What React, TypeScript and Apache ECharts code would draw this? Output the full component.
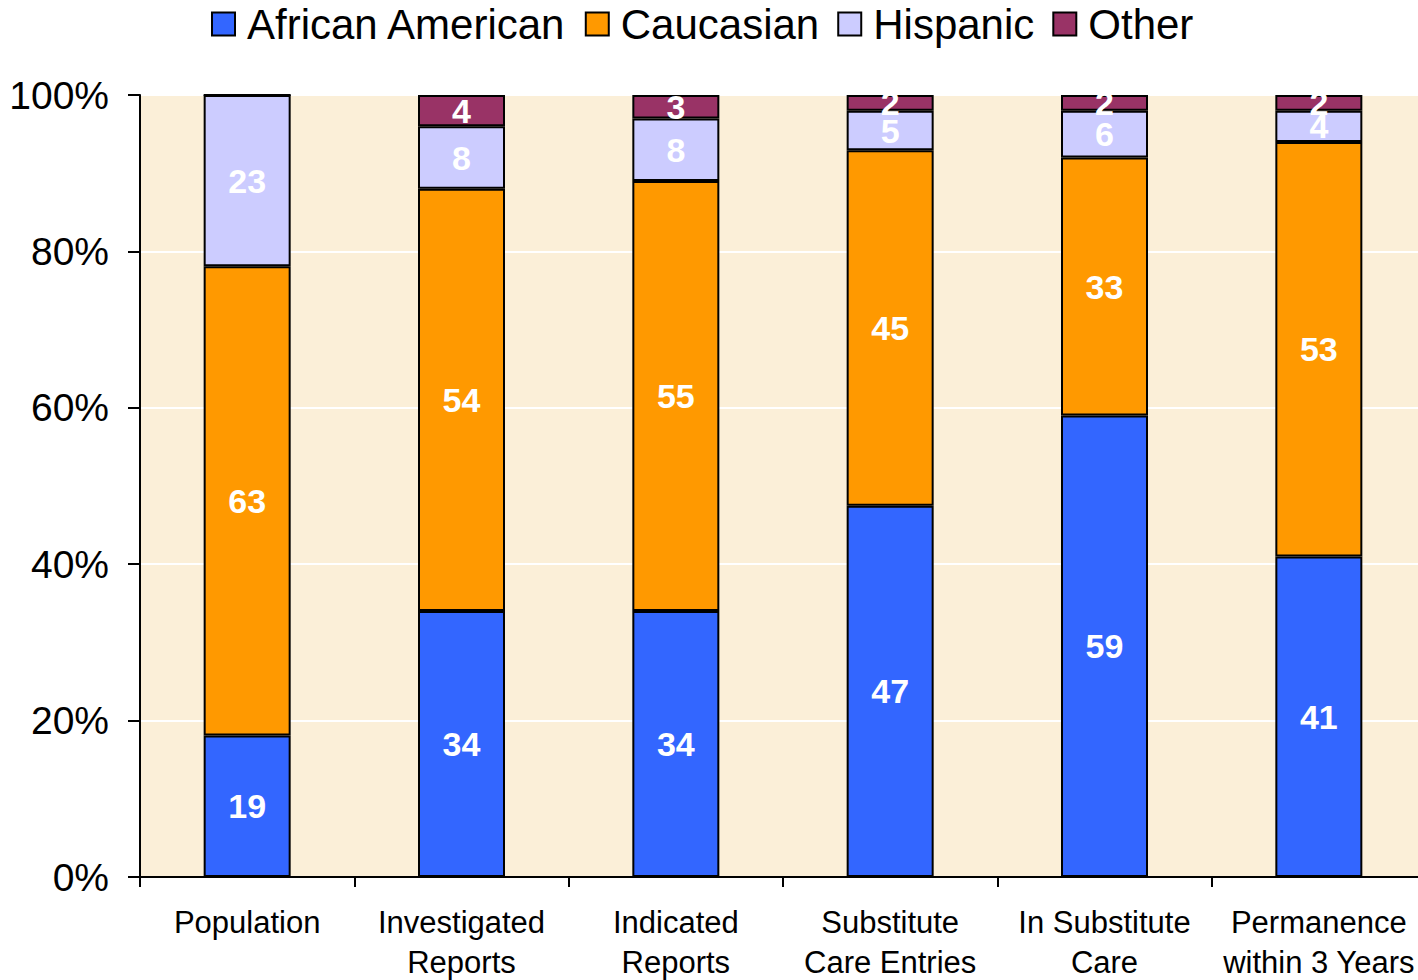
import React, { useEffect, useRef } from "react";
import * as echarts from "echarts";

const categories = [
  "Population",
  "Investigated\nReports",
  "Indicated\nReports",
  "Substitute\nCare Entries",
  "In Substitute\nCare",
  "Permanence\nwithin 3 Years",
];
const seriesNames = ["African American", "Caucasian", "Hispanic", "Other"];
const africanAmerican = [19, 34, 34, 47, 59, 41];
const caucasian = [63, 54, 55, 45, 33, 53];
const hispanic = [23, 8, 8, 5, 6, 4];
const other = [0, 4, 3, 2, 2, 2];
const colors = ["#3366FF", "#FF9900", "#CCCCFF", "#993366"];
const yTicks = ["0%", "20%", "40%", "60%", "80%", "100%"];

const FONT = "'Liberation Sans', Arial, sans-serif";

export default function App() {
  const ref = useRef<HTMLDivElement>(null);
  useEffect(() => {
    if (!ref.current) return;
    const chart = echarts.init(ref.current, null, { renderer: "svg" });
    const raw = [africanAmerican, caucasian, hispanic, other];
    const totals = categories.map((_, i) => raw.reduce((s, arr) => s + arr[i], 0));
    const series = raw.map((arr, si) => ({
      name: seriesNames[si],
      type: "bar",
      stack: "total",
      barWidth: 87,
      data: arr.map((v, i) => ({ value: (v / totals[i]) * 100, raw: v })),
      itemStyle: { color: colors[si], borderColor: "#000", borderWidth: 2 },
      label: {
        show: true,
        position: "inside",
        color: "#fff",
        fontFamily: FONT,
        fontWeight: "bold",
        fontSize: 34,
        formatter: (p: any) => (p.data.raw ? String(p.data.raw) : ""),
      },
    }));
    chart.setOption({
      animation: false,
      textStyle: { fontFamily: FONT },
      legend: {
        data: seriesNames,
        top: -2,
        left: 206,
        itemWidth: 23,
        itemHeight: 23,
        itemGap: 18,
        icon: "rect",
        itemStyle: { borderColor: "#000", borderWidth: 2 },
        textStyle: { fontSize: 42, color: "#000", fontFamily: FONT, padding: [0, 0, 0, 7] },
      },
      grid: {
        left: 140,
        right: -8,
        top: 95,
        bottom: 103,
        outerBoundsMode: "none",
        containLabel: false,
        show: true,
        backgroundColor: "#FBEFD8",
        borderColor: "#000",
        borderWidth: 2,
      },
      xAxis: {
        type: "category",
        data: categories,
        axisLine: { show: true, lineStyle: { color: "#000", width: 2 } },
        axisTick: { show: true, length: 10, lineStyle: { color: "#000", width: 2 } },
        axisLabel: {
          color: "#000",
          fontSize: 31,
          lineHeight: 40,
          margin: 25,
          fontFamily: FONT,
          interval: 0,
        },
      },
      yAxis: {
        type: "value",
        min: 0,
        max: 100,
        interval: 20,
        axisLine: { show: true, lineStyle: { color: "#000", width: 2 } },
        axisTick: { show: true, length: 12, lineStyle: { color: "#000", width: 2 } },
        splitLine: { show: true, lineStyle: { color: "#FFFFFF", width: 2 } },
        axisLabel: {
          color: "#000",
          fontSize: 39,
          margin: 31,
          fontFamily: FONT,
          formatter: (v: number) => yTicks[Math.round(v / 20)],
        },
      },
      series,
    });
    return () => chart.dispose();
  }, []);
  return <div ref={ref} style={{ width: 1418, height: 980, position: "absolute", left: 0, top: 0 }} />;
}
